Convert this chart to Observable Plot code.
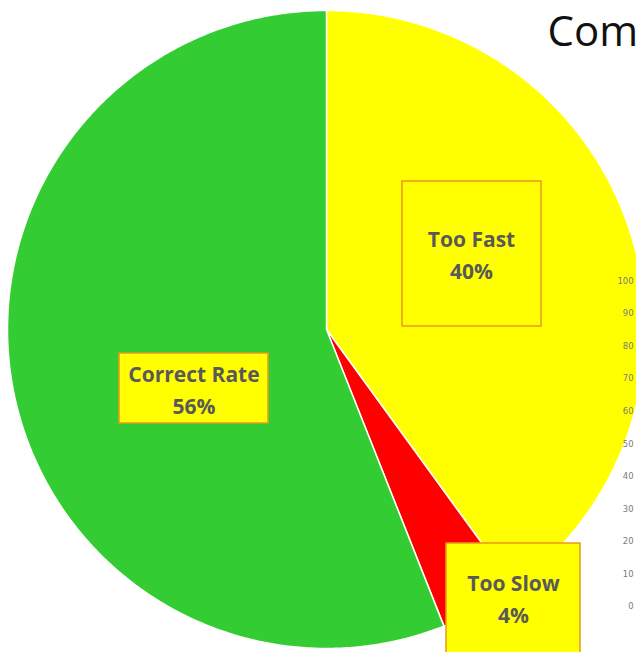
<!DOCTYPE html>
<html>
<head>
<meta charset="utf-8">
<script src="https://cdn.jsdelivr.net/npm/d3@7"></script>
<script src="https://cdn.jsdelivr.net/npm/@observablehq/plot@0.6"></script>
<style>
  html, body { margin: 0; padding: 0; background: #fff; }
  #wrap { position: relative; width: 636px; height: 652px; overflow: hidden; }
  #wrap > svg, #wrap > figure { position: absolute; left: 0; top: 0; margin: 0; }
  #ticks { pointer-events: none; }
</style>
</head>
<body>
<div id="wrap"></div>
<script>
// ---- data ----
const categories = ["Too Fast", "Too Slow", "Correct Rate"];
const percents = [40, 4, 56];
const sliceColors = ["#ffff00", "#ff0000", "#33cc33"];
const tickValues = [0, 10, 20, 30, 40, 50, 60, 70, 80, 90, 100];
const titleText = "Com";

// ---- layout (pixels) ----
const W = 636, H = 652;
const CX = 326, CY = 329, R = 319;
const boxLayout = {
  "Too Fast":     {x1: 402, x2: 541, y1: 181, y2: 326, tx: 471, ty: 252.5},
  "Correct Rate": {x1: 119, x2: 268, y1: 353, y2: 423, tx: 193.5, ty: 387},
  "Too Slow":     {x1: 446, x2: 580, y1: 543, y2: 670, tx: 513, ty: 596.5}
};
const toX = px => (px - CX) / R;
const toY = py => (CY - py) / R;

// pie geometry from the data
const slices = categories.map((c, i) => ({cat: c, pct: percents[i]}));
const arcs = d3.pie().sort(null).value(d => d.pct)(slices);
const polyPts = [];
for (const a of arcs) {
  polyPts.push({cat: a.data.cat, x: 0, y: 0});
  const steps = Math.max(2, Math.ceil((a.endAngle - a.startAngle) / (Math.PI / 360)));
  for (let k = 0; k <= steps; k++) {
    const t = a.startAngle + (a.endAngle - a.startAngle) * k / steps;
    polyPts.push({cat: a.data.cat, x: Math.sin(t), y: Math.cos(t)});
  }
  polyPts.push({cat: a.data.cat, x: 0, y: 0});
}

const boxes = slices.map(s => {
  const b = boxLayout[s.cat];
  return {
    cat: s.cat, pct: s.pct,
    x1: toX(b.x1), x2: toX(b.x2), y1: toY(b.y2), y2: toY(b.y1),
    tx: toX(b.tx), ty: toY(b.ty)
  };
});

const pie = Plot.plot({
  width: W, height: H,
  margin: 0,
  style: {fontFamily: "'Open Sans', sans-serif", background: "transparent"},
  x: {domain: [toX(0), toX(W)], axis: null},
  y: {domain: [toY(H), toY(0)], axis: null},
  color: {domain: categories, range: sliceColors},
  marks: [
    Plot.line(polyPts, {x: "x", y: "y", z: "cat", fill: "cat", stroke: "white", strokeWidth: 1.5, curve: "linear"}),
    Plot.rect(boxes, {x1: "x1", x2: "x2", y1: "y1", y2: "y2", fill: "#ffff00", stroke: "#e89a1c", strokeWidth: 1.5}),
    Plot.text(boxes, {x: "tx", y: "ty", text: d => `${d.cat}\n${d.pct}%`, fontSize: 21, fontWeight: "bold", fill: "#595959", lineHeight: 1.52, lineAnchor: "middle"}),
    Plot.text([titleText], {frameAnchor: "top-left", text: d => d, dx: 547, dy: 32, textAnchor: "start", lineAnchor: "middle", fontSize: 42, fill: "#111"})
  ]
});

const ticks = Plot.plot({
  width: 642, height: H,
  marginLeft: 639, marginRight: 0, marginTop: 0, marginBottom: 0,
  style: {fontFamily: "'DejaVu Sans', sans-serif", background: "transparent"},
  y: {domain: [0, 100], range: [612, 283]},
  marks: [
    Plot.axisY({ticks: tickValues, anchor: "left", tickSize: 0, tickPadding: 0, fontSize: 8.5, fill: "#7a7a7a", label: null})
  ]
});
ticks.id = "ticks";

const wrap = document.getElementById("wrap");
wrap.appendChild(pie);
wrap.appendChild(ticks);
</script>
</body>
</html>
